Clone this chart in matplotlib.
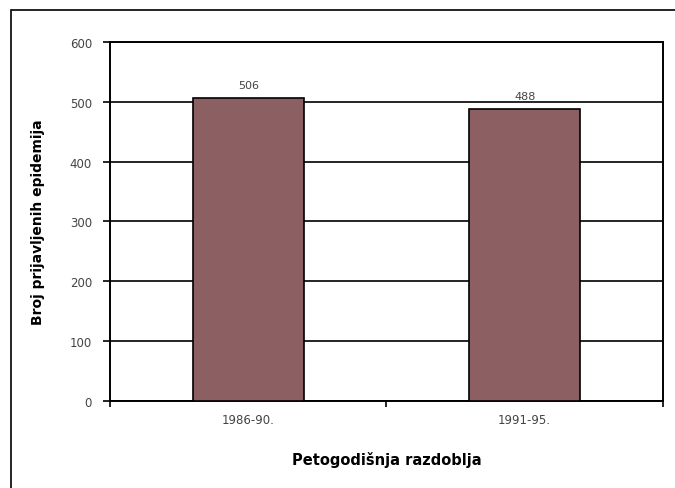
import matplotlib.pyplot as plt
from matplotlib.patches import Rectangle

periods = ["1986-90.", "1991-95."]
epidemics = [506, 488]
y_ticks = [0, 100, 200, 300, 400, 500, 600]

fig = plt.figure(figsize=(6.75, 4.89), dpi=100)
ax = fig.add_axes([0.163, 0.178, 0.819, 0.734])

pos = range(len(periods))
bars = ax.bar(pos, epidemics, width=0.4, color="#8c5f63", edgecolor="black",
              linewidth=1.2, zorder=3)
for b, v in zip(bars, epidemics):
    ax.text(b.get_x() + b.get_width() / 2, v + 14, str(v), ha="center",
            va="bottom", fontsize=8, color="#444444")

ax.set_xlim(-0.5, 1.5)
ax.set_ylim(0, 600)
ax.set_yticks(y_ticks)
ax.set_xticks([-0.5, 0.5, 1.5])
ax.set_xticklabels([])
ax.set_xticks(list(pos), minor=True)
ax.set_xticklabels(periods, minor=True)
ax.tick_params(axis="x", which="minor", length=0, pad=9, labelsize=8.5,
               labelcolor="#444444")
ax.tick_params(axis="x", which="major", direction="out", length=4, width=1.2)
ax.tick_params(axis="y", direction="out", length=5, width=1.2, pad=8,
               labelsize=8.5, labelcolor="#444444")
ax.yaxis.grid(True, color="black", linewidth=1.2, zorder=0)
ax.set_axisbelow(True)
for s in ax.spines.values():
    s.set_linewidth(1.4)

ax.set_xlabel("Petogodišnja razdoblja", fontsize=10.5, fontweight="bold",
              labelpad=18)
ax.set_ylabel("Broj prijavljenih epidemija", fontsize=10, fontweight="bold",
              labelpad=18)

# outer frame of the chart area
fig.patches.append(Rectangle((11 / 675, -0.1), 1.0, 1 - 11 / 489 + 0.1,
                             transform=fig.transFigure, fill=False,
                             edgecolor="black", linewidth=1.2))

fig.savefig("out.png", dpi=100)
